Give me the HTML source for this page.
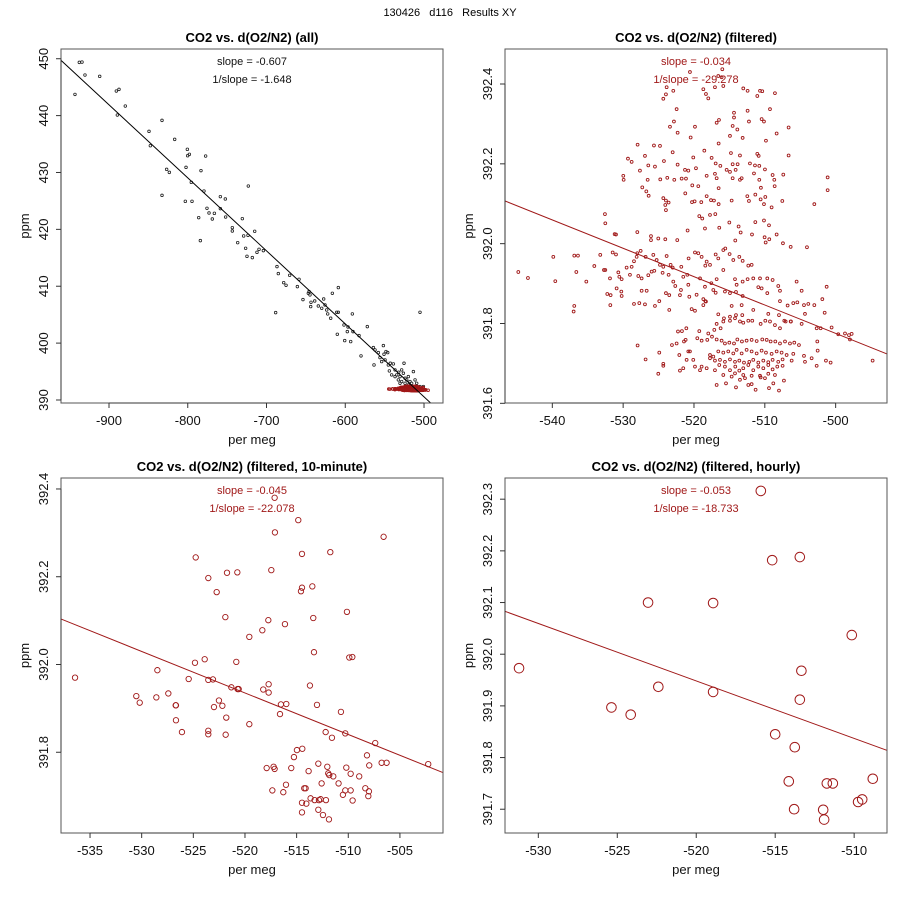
<!DOCTYPE html>
<html><head><meta charset="utf-8"><style>
body{margin:0;background:#fff;}
svg text{font-family:"Liberation Sans",Arial,sans-serif;}
</style></head><body>
<svg id="chart" width="900" height="900" viewBox="0 0 900 900" xmlns="http://www.w3.org/2000/svg">
<rect x="0" y="0" width="900" height="900" fill="#fff"/>
<text x="450" y="16" font-size="11" text-anchor="middle" fill="#000" xml:space="preserve">130426   d116   Results XY</text>
</svg>
<script>
// ---- Panel 1 (all) data ----
const allX = [-943.2,-937.7,-934.3,-930.5,-911.8,-890.7,-887.3,-889.4,-879.3,-849.2,-847.5,-832.7,-832.7,-826.8,-823.4,-816.6,-803.1,-802.2,-800.5,-800.1,-798.0,-795.5,-794.6,-786.1,-783.2,-784.0,-779.4,-777.3,-775.6,-773.0,-768.8,-766.2,-758.6,-758.6,-752.3,-751.9,-743.4,-743.4,-736.6,-730.7,-729.0,-726.5,-724.8,-723.5,-723.1,-718.0,-715.0,-712.1,-709.5,-704.0,-686.7,-685.0,-688.4,-678.2,-675.2,-670.6,-660.8,-658.7,-653.7,-646.9,-646.0,-644.8,-643.9,-643.5,-638.8,-634.2,-629.9,-627.4,-625.7,-623.6,-622.3,-618.5,-616.4,-610.9,-608.8,-608.8,-610.1,-601.6,-600.7,-597.4,-596.5,-593.1,-591.0,-590.2,-582.5,-580.0,-572.0,-564.3,-563.5,-562.2,-558.0,-551.6,-550.8,-548.3,-546.1,-555.9,-553.8,-549.5,-545.3,-542.8,-538.9,-536.8,-532.2,-525.4,-505.1,-544.0,-541.1,-534.7,-532.6,-530.5,-528.4,-526.2,-524.1,-522.0,-519.9,-517.8,-513.5,-511.4,-509.3,-515.7,-524.1,-528.4,-530.5,-519.9,-505.1,-500.8,-536.8];
const allY = [443.73,449.36,449.41,447.13,446.90,444.32,444.61,440.10,441.68,437.23,434.71,439.16,425.98,430.55,430.02,435.82,424.93,430.90,434.07,432.95,433.19,428.27,424.93,422.06,430.32,418.02,426.74,432.89,423.70,422.88,421.82,422.82,425.75,423.64,425.34,422.17,420.30,419.71,417.66,421.88,418.84,416.67,415.26,418.95,427.62,415.03,419.66,415.96,416.49,416.26,413.45,412.22,405.36,410.63,410.17,411.92,409.93,411.22,407.65,408.76,409.05,408.47,406.42,407.18,407.41,406.53,406.12,407.76,406.71,405.83,405.13,404.37,408.76,405.42,409.76,405.42,401.55,403.19,400.44,402.02,402.84,400.27,405.13,402.02,401.32,397.75,402.90,399.21,396.16,398.80,398.33,399.56,398.04,398.51,398.33,397.45,396.75,397.04,396.16,396.46,396.34,395.29,394.88,396.46,405.42,395.11,394.41,394.41,393.53,394.11,395.29,394.70,393.82,393.53,394.11,393.24,394.99,393.53,392.94,392.94,392.94,393.24,392.94,392.65,392.36,392.36,394.11];
const allLineX = [-961.4,-491.1];
const allLineY = [449.77,389.41];
const allXTicks = [-900,-800,-700,-600,-500];
const allYTicks = [390,400,410,420,430,440,450];

// ---- Panel 2 (filtered) data ----
const filtX = [-516.0,-520.57,-516.57,-516.1,-515.86,-523.86,-524.33,-523.96,-522.92,-518.68,-518.31,-517.98,-517.04,-513.04,-512.43,-510.68,-510.36,-511.06,-508.57,-522.45,-514.35,-512.43,-514.35,-512.24,-510.45,-510.12,-516.47,-516.8,-509.27,-522.83,-523.39,-519.86,-514.54,-513.88,-522.31,-506.64,-508.33,-520.47,-514.92,-513.13,-509.84,-516.52,-527.96,-525.65,-524.8,-523.01,-526.92,-529.32,-528.8,-518.54,-514.78,-513.51,-511.06,-510.87,-506.64,-520.1,-517.51,
-527.63,-526.45,-525.51,-524.24,-522.31,-521.27,-520.8,-519.72,-529.98,-529.93,-526.54,-524.76,-523.77,-522.78,-521.74,-521.13,-516.94,-516.28,-515.39,-514.54,-513.84,-514.92,-514.12,-512.1,-511.39,-510.78,-509.98,-518.21,-517.04,-516.8,-516.52,-514.54,-513.51,-513.27,-511.53,-510.78,-508.9,-508.66,-507.39,-501.13,-501.13,-527.3,-526.73,-526.4,-521.23,-520.24,-519.39,-524.33,-523.96,-523.58,-524.05,-523.96,-520.28,-519.91,-518.97,-517.6,-517.18,-516.52,-518.21,-514.68,-512.47,-512.24,-511.34,-510.59,-510.12,-509.04,-510.55,-509.93,-508.61,-507.53,-503.01,-519.25,-518.83,-517.74,-516.99,-515.01,-513.7,-513.41,-511.34,-510.12,-509.41,-511.81,-532.57,-532.52,-528.0,-531.01,-520.9,-518.45,-516.43,-526.07,-526.07,-525.04,-524.05,-522.36,-514.17,-510.03,-509.37,-509.88,-508.33,-507.44,-506.35,-504.05,
-544.8,-543.44,-539.86,-539.58,-536.9,-536.38,-536.61,-535.2,-534.07,-533.23,-532.52,-532.71,-531.86,-531.48,-531.01,-531.2,-532.24,-531.77,-531.81,-530.92,-530.26,-530.21,-530.68,-530.54,-530.21,-529.04,-529.51,-528.8,-528.47,-528.1,-528.0,-527.53,-526.83,-525.74,-525.27,-524.8,-524.33,-523.86,-523.3,-523.01,-521.79,-521.51,-520.94,-520.76,-519.86,-519.39,-518.92,-518.21,-518.4,-517.74,-516.94,-516.57,-515.86,-515.58,-514.97,-514.45,-513.6,-513.13,-512.33,-511.86,-527.86,-527.39,-526.45,-525.98,-525.6,-524.43,-523.58,-522.92,-522.64,-521.84,-520.8,-519.15,-518.45,-517.55,-516.8,-515.86,-514.21,-513.98,-513.13,-512.43,-511.63,-510.68,-509.65,-508.9,-508.1,-505.51,-504.8,-501.27,-527.39,-526.68,-523.96,-523.49,-521.98,-520.66,-519.63,-518.68,-517.27,-516.94,-515.63,-514.92,-514.07,-513.13,-510.92,-510.45,-509.65,-507.86,-528.47,-527.72,-526.92,-525.51,-524.9,-523.49,-520.33,-519.86,-518.4,-518.68,-518.31,-514.68,-513.27,-511.63,-507.86,-506.78,-505.98,-505.41,-504.47,-503.86,-503.01,-501.88,-536.9,-536.99,-527.96,-509.51,-508.0,-507.25,-506.35,-504.33,-501.55,-516.57,-515.77,-514.92,-514.07,-513.18,
-504.8,-502.68,-502.12,-500.57,-499.63,-498.68,-498.12,-497.74,-497.98,-494.78,-522.26,-521.7,-521.08,-519.25,-517.98,-517.13,-516.8,-516.24,-515.86,-514.92,-514.21,-513.51,-513.04,-512.33,-511.77,-510.59,-509.93,-509.27,-508.57,-507.86,-507.06,-506.31,-523.11,-522.45,-521.41,-521.18,-519.53,-518.92,-518.12,-517.46,-516.8,-516.1,-515.63,-515.01,-514.35,-513.88,-513.23,-512.57,-511.86,-511.15,-510.36,-509.74,-509.18,-508.52,-507.86,-507.15,-506.45,-505.84,-505.18,-502.59,-502.54,-524.9,-522.07,-520.8,-520.57,-517.74,-517.27,-516.57,-515.86,-515.16,-514.45,-513.98,-513.27,-512.57,-511.86,-511.15,-510.45,-509.84,-509.04,-508.33,-507.63,-506.92,-505.98,-504.47,-503.39,-526.83,-524.33,-524.33,-521.04,-520.1,-517.74,-517.04,-516.33,-515.63,-514.92,-514.21,-513.6,-512.94,-512.19,-511.63,-510.92,-510.21,-509.51,-508.9,-508.1,-507.49,-506.21,-504.33,-501.37,-500.71,-525.04,-521.98,-521.51,-519.86,-519.15,-518.92,-518.21,-517.04,-516.43,-515.63,-514.92,-514.17,-513.6,-513.04,-512.33,-511.63,-510.92,-510.21,-509.51,-508.9,-508.24,-507.49,-502.68,-516.8,-515.48,-514.68,-514.07,-513.51,-512.8,-512.33,-511.86,-511.3,-510.59,-509.98,-509.41,-508.8,-508.0,-507.3,-515.86,-514.21,-513.04,-511.86,-510.68,-509.51,-508.57];
const filtY = [392.437,392.430,392.420,392.417,392.395,392.392,392.363,392.374,392.383,392.387,392.375,392.364,392.392,392.389,392.383,392.383,392.382,392.370,392.377,392.337,392.328,392.333,392.316,392.306,392.312,392.306,392.310,392.303,392.337,392.306,392.293,392.293,392.295,392.286,392.278,392.291,392.276,392.266,392.270,392.265,392.258,392.251,392.248,392.246,392.245,392.229,392.220,392.213,392.205,392.233,392.227,392.221,392.225,392.220,392.221,392.216,392.215,
392.183,392.196,392.193,392.207,392.198,392.185,392.183,392.189,392.170,392.160,392.160,392.161,392.165,392.160,392.163,392.163,392.201,392.195,392.185,392.199,392.199,392.180,392.185,392.201,392.196,392.195,392.186,392.170,392.175,392.164,392.139,392.164,392.160,392.164,392.176,392.160,392.172,392.160,392.173,392.166,392.134,392.141,392.131,392.120,392.126,392.146,392.144,392.114,392.108,392.103,392.097,392.084,392.104,392.106,392.104,392.109,392.108,392.099,392.119,392.108,392.119,392.107,392.123,392.111,392.099,392.091,392.140,392.117,392.144,392.107,392.099,392.069,392.063,392.072,392.074,392.053,392.043,392.028,392.054,392.058,392.046,392.023,392.074,392.051,392.029,392.023,392.033,392.038,392.040,392.019,392.009,392.013,392.011,392.009,392.008,392.016,392.011,392.003,392.023,392.001,391.992,391.991,
391.929,391.914,391.967,391.906,391.970,391.970,391.929,391.905,391.944,391.972,391.934,391.934,391.913,391.978,391.973,392.024,391.874,391.871,391.846,391.888,391.880,391.869,391.928,391.917,391.911,391.922,391.940,391.942,391.956,391.967,391.976,391.982,391.967,391.972,391.959,391.947,391.942,391.969,391.947,391.940,391.942,391.917,391.922,391.963,391.978,391.976,391.967,391.955,391.945,391.947,391.973,391.963,391.984,391.988,391.974,391.959,391.967,391.957,391.945,391.947,391.919,391.913,391.921,391.930,391.932,391.927,391.922,391.905,391.894,391.884,391.897,391.913,391.892,391.901,391.911,391.934,391.911,391.897,391.905,391.911,391.913,391.913,391.913,391.909,391.894,391.905,391.882,391.892,391.882,391.882,391.876,391.871,391.871,391.867,391.872,391.861,391.884,391.877,391.880,391.876,391.879,391.869,391.891,391.888,391.876,391.882,391.849,391.851,391.848,391.844,391.856,391.834,391.836,391.832,391.856,391.846,391.855,391.844,391.846,391.834,391.856,391.845,391.851,391.853,391.846,391.849,391.846,391.861,391.844,391.830,391.745,391.824,391.821,391.807,391.805,391.824,391.827,391.823,391.813,391.817,391.821,391.821,
391.799,391.788,391.788,391.790,391.773,391.775,391.771,391.774,391.760,391.707,391.780,391.781,391.788,391.781,391.775,391.784,391.799,391.788,391.805,391.807,391.813,391.805,391.802,391.807,391.807,391.799,391.807,391.805,391.796,391.788,391.805,391.805,391.746,391.750,391.755,391.759,391.763,391.757,391.759,391.767,391.760,391.757,391.750,391.752,391.750,391.760,391.755,391.757,391.759,391.756,391.760,391.759,391.755,391.755,391.750,391.755,391.750,391.752,391.746,391.755,391.732,391.727,391.721,391.730,391.730,391.721,391.717,391.730,391.727,391.730,391.725,391.734,391.725,391.734,391.730,391.725,391.732,391.727,391.724,391.730,391.727,391.721,391.724,391.719,391.713,391.710,391.699,391.694,391.709,391.709,391.713,391.707,391.709,391.704,391.710,391.704,391.707,391.702,391.704,391.709,391.702,391.707,391.703,391.709,391.704,391.710,391.707,391.704,391.707,391.702,391.674,391.682,391.688,391.692,391.683,391.692,391.688,391.683,391.696,391.692,391.683,391.692,391.682,391.688,391.696,391.683,391.692,391.688,391.696,391.685,391.692,391.694,391.694,391.646,391.650,391.667,391.640,391.659,391.663,391.646,391.648,391.634,391.665,391.663,391.638,391.650,391.632,391.657,391.671,391.675,391.671,391.669,391.669,391.674,391.671];
const filtLineX = [-546.68,-492.8];
const filtLineY = [392.107,391.724];
const filtXTicks = [-540,-530,-520,-510,-500];
const filtYTicks = [391.6,391.8,392.0,392.2,392.4];

// ---- Panel 3 (10-minute) data ----
const tenX = [-536.45,-528.48,-530.52,-530.19,-528.58,-527.42,-526.71,-526.68,-526.68,-526.10,-525.45,-524.84,-524.77,-523.90,-523.55,-523.55,-523.10,-523.55,-523.55,-523.0,-522.74,-522.52,-522.19,-521.90,-521.81,-521.87,-521.74,-521.32,-520.84,-520.74,-520.71,-520.61,-519.58,-519.58,-518.32,-518.23,-517.90,-517.74,-517.71,-517.71,-517.45,-517.35,-517.23,-517.13,-517.13,-517.10,-516.61,-516.52,-516.29,-516.13,-516.03,-516.0,-515.52,-515.26,-514.97,-514.84,-514.48,-514.48,-514.58,-514.45,-514.48,-514.48,-514.26,-514.13,-514.06,-513.84,-513.71,-513.65,-513.48,-513.39,-513.32,-513.26,-513.03,-512.90,-512.90,-512.84,-512.68,-512.58,-512.45,-512.19,-512.16,-512.03,-511.94,-511.87,-511.84,-511.74,-511.58,-511.45,-510.94,-510.71,-510.52,-510.29,-510.29,-510.19,-510.13,-509.90,-509.77,-509.77,-509.61,-509.58,-508.94,-508.35,-508.19,-508.06,-508.0,-507.97,-507.39,-506.77,-506.58,-506.29,-502.26];
const tenY = [391.970,391.987,391.928,391.913,391.925,391.934,391.907,391.907,391.873,391.846,391.967,392.004,392.244,392.012,392.197,391.965,391.966,391.849,391.841,391.903,392.165,391.918,391.906,392.108,391.879,391.840,392.209,391.948,392.006,392.210,391.944,391.944,392.063,391.864,392.078,391.943,391.764,392.101,391.955,391.936,392.215,391.713,391.767,391.762,392.380,392.301,391.887,391.909,391.709,392.092,391.726,391.910,391.764,391.789,391.805,392.329,392.252,392.175,392.167,391.808,391.685,391.663,391.718,391.718,391.683,391.757,391.952,391.695,392.178,392.106,392.028,391.691,391.908,391.774,391.669,391.691,391.693,391.729,391.657,391.846,391.691,391.767,391.752,391.647,391.748,392.256,391.833,391.745,391.729,391.892,391.703,391.713,391.843,391.765,392.120,392.016,391.751,391.713,392.017,391.690,391.745,391.718,391.793,391.700,391.711,391.770,391.821,391.776,392.291,391.776,391.773];
const tenLineX = [-537.84,-500.87];
const tenLineY = [392.104,391.754];
const tenXTicks = [-535,-530,-525,-520,-515,-510,-505];
const tenYTicks = [391.8,392.0,392.2,392.4];

// ---- Panel 4 (hourly) data ----
const hrX = [-531.22,-515.91,-515.19,-513.44,-523.05,-518.93,-510.15,-513.34,-513.44,-522.40,-518.93,-525.37,-524.15,-515.0,-513.76,-514.14,-511.73,-511.35,-508.82,-509.49,-509.75,-513.80,-511.96,-511.90];
const hrY = [391.973,392.316,392.182,392.188,392.100,392.099,392.037,391.968,391.912,391.937,391.927,391.897,391.883,391.845,391.820,391.754,391.750,391.750,391.759,391.719,391.714,391.700,391.699,391.680];
const hrLineX = [-532.11,-507.93];
const hrLineY = [392.083,391.814];
const hrXTicks = [-530,-525,-520,-515,-510];
const hrYTicks = [391.7,391.8,391.9,392.0,392.1,392.2,392.3];

const NS = 'http://www.w3.org/2000/svg';
const svg = document.getElementById('chart');
function mk(tag, attrs, parent){const e=document.createElementNS(NS,tag);for(const k in attrs)e.setAttribute(k,attrs[k]);(parent||svg).appendChild(e);return e;}

let clipId = 0;
function panel(cfg){
  const g = mk('g',{});
  
  
  const L=cfg.box[0],T=cfg.box[1],R=cfg.box[2],B=cfg.box[3];
  const sx = v => L + (v - cfg.xd[0]) / (cfg.xd[1] - cfg.xd[0]) * (R - L);
  const sy = v => B - (v - cfg.yd[0]) / (cfg.yd[1] - cfg.yd[0]) * (B - T);
  const cid = 'clip' + (clipId++);
  const defs = mk('defs',{},g);
  const cp = mk('clipPath',{id:cid},defs);
  mk('rect',{x:L,y:T,width:R-L,height:B-T},cp);
  const pg = mk('g',{'clip-path':'url(#'+cid+')'},g);
  
  
  for(const s of cfg.series){
    for(let i=0;i<s.x.length;i++){
      const c = mk('circle',{cx:sx(s.x[i]),cy:sy(s.y[i]),r:s.r,fill:'none',stroke:s.color,'stroke-width':s.sw},pg);
      
      
    }
  }
  const ln = mk('line',{x1:sx(cfg.lx[0]),y1:sy(cfg.ly[0]),x2:sx(cfg.lx[1]),y2:sy(cfg.ly[1]),stroke:cfg.lineColor,'stroke-width':1},pg);
  
  
  const box = mk('rect',{x:L,y:T,width:R-L,height:B-T,fill:'none',stroke:'#555','stroke-width':1},g);
  
  
  const xa = mk('g',{},g);
  
  
  mk('line',{x1:sx(cfg.xt[0]),y1:B,x2:sx(cfg.xt[cfg.xt.length-1]),y2:B,stroke:'#333'},xa);
  for(const t of cfg.xt){
    mk('line',{x1:sx(t),y1:B,x2:sx(t),y2:B+5,stroke:'#333'},xa);
    const tx = mk('text',{x:sx(t),y:B+22,'font-size':13,'text-anchor':'middle',fill:'#111'},xa);
    
    
    tx.textContent = String(t);
  }
  const xl = mk('text',{x:(L+R)/2,y:B+41,'font-size':13,'text-anchor':'middle',fill:'#111'},g);
  
  
  xl.textContent = 'per meg';
  const ya = mk('g',{},g);
  
  
  mk('line',{x1:L,y1:sy(cfg.yt[0]),x2:L,y2:sy(cfg.yt[cfg.yt.length-1]),stroke:'#333'},ya);
  for(const t of cfg.yt){
    const yy = sy(t);
    mk('line',{x1:L-5,y1:yy,x2:L,y2:yy,stroke:'#333'},ya);
    const tx = mk('text',{x:L-13,y:yy,'font-size':13,'text-anchor':'middle',fill:'#111',transform:'rotate(-90 '+(L-13)+' '+yy+')'},ya);
    
    
    tx.textContent = t.toFixed(cfg.dec);
  }
  const yl = mk('text',{x:L-32,y:(T+B)/2,'font-size':13,'text-anchor':'middle',fill:'#111',transform:'rotate(-90 '+(L-32)+' '+((T+B)/2)+')'},g);
  
  
  yl.textContent = 'ppm';
  const ti = mk('text',{x:(L+R)/2,y:T-7,'font-size':13,'font-weight':'bold','text-anchor':'middle',fill:'#000'},g);
  
  
  ti.textContent = cfg.title;
  const s1 = mk('text',{x:cfg.annX,y:T+16,'font-size':11,'text-anchor':'middle',fill:cfg.annColor},g);
  
  
  s1.textContent = cfg.ann[0];
  const s2 = mk('text',{x:cfg.annX,y:T+34,'font-size':11,'text-anchor':'middle',fill:cfg.annColor},g);
  
  
  s2.textContent = cfg.ann[1];
}

const RED = '#a01818';
panel({name:'panel-all',box:[61,49,443,403],xd:[-960.95,-475.9],yd:[389.47,451.71],xt:allXTicks,yt:allYTicks,dec:0,
  series:[{x:allX,y:allY,r:1.3,color:'#222',sw:0.8},{x:filtX,y:filtY,r:1.3,color:RED,sw:0.9}],
  lx:allLineX,ly:allLineY,lineColor:'#000',title:'CO2 vs. d(O2/N2) (all)',ann:['slope = -0.607','1/slope = -1.648'],annX:252,annColor:'#111'});
panel({name:'panel-filtered',box:[505,49,887,403],xd:[-546.68,-492.75],yd:[391.6008,392.4877],xt:filtXTicks,yt:filtYTicks,dec:1,
  series:[{x:filtX,y:filtY,r:1.4,color:RED,sw:0.9}],
  lx:filtLineX,ly:filtLineY,lineColor:RED,title:'CO2 vs. d(O2/N2) (filtered)',ann:['slope = -0.034','1/slope = -29.278'],annX:696,annColor:RED});
panel({name:'panel-10-minute',box:[61,478,443,833],xd:[-537.81,-500.83],yd:[391.616,392.425],xt:tenXTicks,yt:tenYTicks,dec:1,
  series:[{x:tenX,y:tenY,r:2.7,color:RED,sw:0.9}],
  lx:tenLineX,ly:tenLineY,lineColor:RED,title:'CO2 vs. d(O2/N2) (filtered, 10-minute)',ann:['slope = -0.045','1/slope = -22.078'],annX:252,annColor:RED});
panel({name:'panel-hourly',box:[505,478,887,833],xd:[-532.11,-507.92],yd:[391.654,392.341],xt:hrXTicks,yt:hrYTicks,dec:1,
  series:[{x:hrX,y:hrY,r:4.8,color:RED,sw:1}],
  lx:hrLineX,ly:hrLineY,lineColor:RED,title:'CO2 vs. d(O2/N2) (filtered, hourly)',ann:['slope = -0.053','1/slope = -18.733'],annX:696,annColor:RED});
</script>
</body></html>
